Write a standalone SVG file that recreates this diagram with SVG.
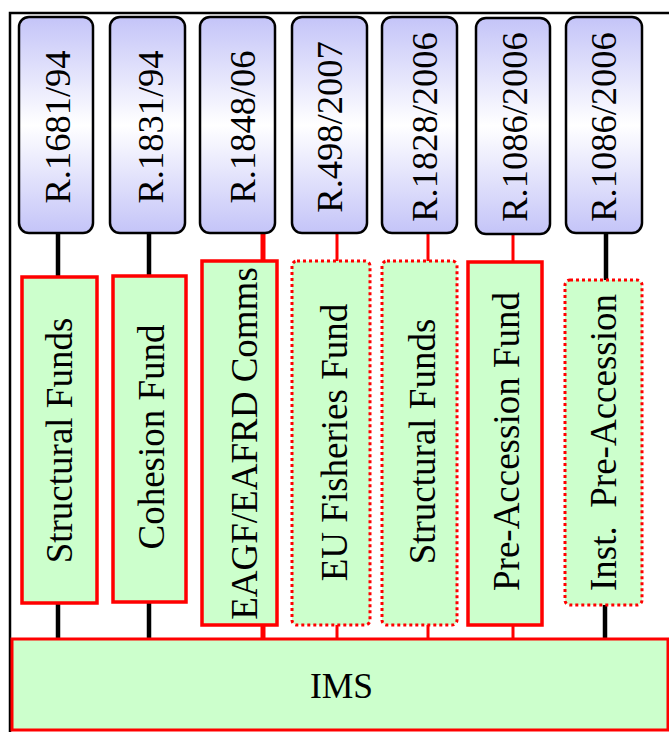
<svg xmlns="http://www.w3.org/2000/svg" width="669" height="732" viewBox="0 0 669 732">
<defs>
<linearGradient id="lav" x1="0" y1="0" x2="0" y2="1">
<stop offset="0" stop-color="#c4c4f8"/>
<stop offset="0.5" stop-color="#ffffff"/>
<stop offset="1" stop-color="#c4c4f8"/>
</linearGradient>
</defs>
<style>
.reg{fill:url(#lav);stroke:#000;stroke-width:2.5}
.fund{fill:#ccffcc;stroke:#ff0000;stroke-width:3.5}
.dot{fill:#ccffcc;stroke:#ff0000;stroke-width:3;stroke-dasharray:3 3}
.t{font-family:"Liberation Serif","Times New Roman",serif;font-size:36.5px;fill:#000;text-anchor:middle}
.tf{font-family:"Liberation Serif","Times New Roman",serif;font-size:37px;fill:#000;text-anchor:middle}
.cb{stroke:#000;stroke-width:4.5;fill:none}
.cr{stroke:#ff0000;stroke-width:3;fill:none}
.crw{stroke:#ff0000;stroke-width:5;fill:none}
</style>
<rect width="669" height="732" fill="#fff"/>
<path d="M10,732 V13 H669" fill="none" stroke="#000" stroke-width="2.5"/>
<g id="connectors">
<line class="cb" x1="58" y1="233" x2="58" y2="277"/>
<line class="cb" x1="149" y1="233" x2="149" y2="277"/>
<line class="crw" x1="263" y1="233" x2="263" y2="261"/>
<line class="cr" x1="337" y1="233" x2="337" y2="261"/>
<line class="cr" x1="428" y1="233" x2="428" y2="261"/>
<line class="cr" x1="513" y1="233" x2="513" y2="262"/>
<line class="cb" x1="606" y1="233" x2="606" y2="280"/>
<line class="cb" x1="58" y1="603" x2="58" y2="639"/>
<line class="cb" x1="149" y1="602" x2="149" y2="639"/>
<line class="crw" x1="263" y1="625" x2="263" y2="639"/>
<line class="cr" x1="337" y1="625" x2="337" y2="639"/>
<line class="cr" x1="428" y1="625" x2="428" y2="639"/>
<line class="cr" x1="513" y1="625" x2="513" y2="639"/>
<line class="cb" x1="605" y1="605" x2="605" y2="639"/>
</g>
<g id="reg1"><rect class="reg" x="19" y="17" width="74" height="216" rx="10"/><text class="t" transform="translate(70,127) rotate(-90)">R.1681/94</text></g>
<g id="reg2"><rect class="reg" x="110" y="17" width="75" height="216" rx="10"/><text class="t" transform="translate(163,127) rotate(-90)">R.1831/94</text></g>
<g id="reg3"><rect class="reg" x="200" y="17" width="75" height="216" rx="10"/><text class="t" transform="translate(255,127) rotate(-90)">R.1848/06</text></g>
<g id="reg4"><rect class="reg" x="292" y="17" width="75" height="216" rx="10"/><text class="t" transform="translate(342,127) rotate(-90)">R.498/2007</text></g>
<g id="reg5"><rect class="reg" x="382" y="17" width="75" height="216" rx="10"/><text class="t" transform="translate(437,127) rotate(-90)">R.1828/2006</text></g>
<g id="reg6"><rect class="reg" x="476" y="18" width="74" height="216" rx="10"/><text class="t" transform="translate(527,127) rotate(-90)">R.1086/2006</text></g>
<g id="reg7"><rect class="reg" x="566" y="17" width="76" height="216" rx="10"/><text class="t" transform="translate(616,127) rotate(-90)">R.1086/2006</text></g>
<g id="fund1"><rect class="fund" x="22" y="277" width="75" height="326"/><text class="tf" transform="translate(72,440.5) rotate(-90)">Structural Funds</text></g>
<g id="fund2"><rect class="fund" x="113" y="276" width="73" height="326"/><text class="tf" transform="translate(164,437) rotate(-90)">Cohesion Fund</text></g>
<g id="fund3"><rect class="fund" x="202" y="261" width="75" height="364"/><text class="tf" transform="translate(257,443.5) rotate(-90)">EAGF/EAFRD Comms</text></g>
<g id="fund4"><rect class="dot" x="292" y="261" width="78" height="364" rx="5"/><text class="tf" transform="translate(347,442.5) rotate(-90)">EU Fisheries Fund</text></g>
<g id="fund5"><rect class="dot" x="382" y="261" width="75" height="364" rx="5"/><text class="tf" transform="translate(435,441.5) rotate(-90)">Structural Funds</text></g>
<g id="fund6"><rect class="fund" x="468" y="262" width="74" height="363"/><text class="tf" transform="translate(519,441.5) rotate(-90)">Pre-Accession Fund</text></g>
<g id="fund7"><rect class="dot" x="565" y="280" width="77" height="325" rx="5"/><text class="tf" xml:space="preserve" transform="translate(616,442.5) rotate(-90)">Inst.  Pre-Accession</text></g>
<g id="ims"><rect class="fund" x="12" y="639" width="656" height="91" style="stroke-width:3"/><text class="tf" x="341.5" y="698" style="font-size:35.5px">IMS</text></g>
</svg>
